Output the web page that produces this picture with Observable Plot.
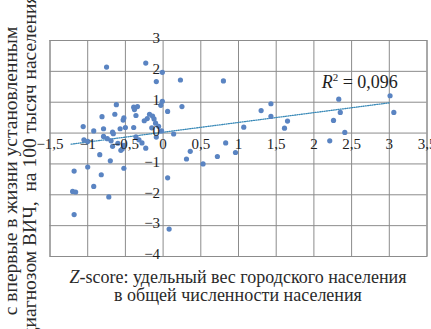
<!DOCTYPE html>
<html><head><meta charset="utf-8">
<script src="https://cdn.jsdelivr.net/npm/d3@7"></script>
<script src="https://cdn.jsdelivr.net/npm/@observablehq/plot@0.6"></script>
<style>body{margin:0;background:#fff;overflow:hidden;} svg{display:block;}</style>
</head><body><div id="chart"></div>
<script>
// Z-score: share of urban population (x) vs. Z-score: new HIV cases per 100k (y)
const urbanZ = [-0.75,-0.23,-0.01,-0.09,0.23,0.80,-0.01,-0.03,0.06,0.25,
  -0.62,-0.39,-0.34,-0.38,-0.81,-0.64,-0.52,-0.53,-0.36,-0.18,
  -0.14,-0.21,-0.25,-0.12,-0.10,-0.06,-1.06,-0.92,-0.79,-0.67,
  -0.57,-0.50,-0.39,-0.15,-0.02,0.14,-0.09,-1.05,-1.00,-0.79,
  -0.74,-0.69,-0.66,-0.60,-0.67,-0.54,-0.56,-0.52,-0.36,-0.32,
  -0.28,-0.23,-0.84,-0.70,-1.18,-1.00,-0.82,-0.52,-0.92,-1.20,
  -1.16,-0.72,-1.18,0.06,0.08,0.83,0.96,0.72,0.36,0.31,
  0.53,1.07,1.30,1.43,1.43,1.65,1.61,2.33,2.35,2.26,
  2.41,2.21,3.01,3.06];
const hivZ = [2.14,2.27,1.97,1.67,1.72,1.69,1.03,0.90,0.70,0.86,
  0.92,0.84,0.86,0.76,0.53,0.61,0.49,0.42,0.57,0.61,
  0.55,0.47,0.40,0.46,0.32,0.22,0.21,0.07,0.14,0.03,
  0.14,0.18,0.18,0.17,0.07,-0.03,-0.13,-0.22,-0.27,-0.11,
  -0.18,-0.25,-0.02,-0.33,-0.43,-0.51,-0.56,-0.40,-0.12,-0.22,
  -0.32,-0.49,-0.70,-0.90,-1.23,-1.10,-1.35,-1.14,-1.73,-1.89,
  -1.91,-2.07,-2.64,-1.45,-3.11,-0.32,-0.63,-0.76,-0.59,-0.84,
  -1.00,0.19,0.73,0.95,0.54,0.39,0.16,1.10,0.67,0.41,
  0.02,-0.25,1.21,0.67];
const xTicks = [-1.5,-1,-0.5,0,0.5,1,1.5,2,2.5,3,3.5];
const yTicks = [-4,-3,-2,-1,0,1,2,3];
const trendX = [-1.22, 3.0];
const trendY = [-0.36, 0.98];
const r2Text = "0,096";
const xLabelLine1 = ["Z", "-score: удельный вес городского населения"];
const xLabelLine2 = "в общей численности населения";
const yLabelLines = ["с впервые в жизни установленным", "диагнозом ВИЧ,  на 100 тысяч населения"];

const fmt = v => (v < 0 ? "\u2212" : "") + String(Math.abs(v)).replace(".", ",");
const points = urbanZ.map((x, i) => ({x, y: hivZ[i]}));
const trend = trendX.map((x, i) => ({x, y: trendY[i]}));
const FONT = "Liberation Serif, DejaVu Serif, Noto Serif, serif";

const plot = Plot.plot({
  width: 431, height: 329,
  marginLeft: 49.5, marginRight: 4.5, marginTop: 40, marginBottom: 73,
  style: {fontFamily: FONT, background: "#fff", overflow: "visible"},
  x: {domain: [-1.5, 3.5], axis: null},
  y: {domain: [-4, 3], axis: null},
  marks: [
    Plot.gridX(xTicks, {stroke: "#8c8c8c", strokeOpacity: 1}),
    Plot.gridY(yTicks, {stroke: "#8c8c8c", strokeOpacity: 1}),
    Plot.frame({stroke: "#8c8c8c"}),
    Plot.line(trend, {x: "x", y: "y", stroke: "#3a8ab8", strokeWidth: 1.3, strokeDasharray: "1,1.3"}),
    Plot.dot(points, {x: "x", y: "y", r: 2.6, fill: "#5a84c2"}),
    Plot.text(xTicks, {x: d => d, y: () => 0, text: fmt, dy: 11, fontSize: 15, fill: "#1e1e1e", fontFamily: FONT}),
    Plot.text(yTicks, {x: () => 0, y: d => d, text: fmt, dx: -3, dy: -2, textAnchor: "end", fontSize: 15, fill: "#1e1e1e", fontFamily: FONT})
  ]
});
document.getElementById("chart").append(plot);

const svg = d3.select(plot);
const sx = plot.scale("x"), sy = plot.scale("y");

// R² label
const r2 = svg.append("text")
  .attr("x", sx.apply(2.11)).attr("y", sy.apply(1.66)).attr("dy", "0.35em")
  .attr("text-anchor", "start")
  .style("font-family", FONT).attr("font-size", 18).attr("fill", "#1e1e1e");
r2.append("tspan").attr("font-style", "italic").text("R");
r2.append("tspan").attr("font-size", 11).attr("dy", -7).text("2");
r2.append("tspan").attr("dy", 7).text(" = " + r2Text);

// x-axis title
const cx = (49.5 + 426.5) / 2;
const xl1 = svg.append("text").attr("x", cx).attr("y", 283).attr("text-anchor", "middle")
  .style("font-family", FONT).attr("font-size", 18).attr("fill", "#2a2a2a");
xl1.append("tspan").attr("font-style", "italic").text(xLabelLine1[0]);
xl1.append("tspan").text(xLabelLine1[1]);
svg.append("text").attr("x", cx).attr("y", 301).attr("text-anchor", "middle")
  .style("font-family", FONT).attr("font-size", 18).attr("fill", "#2a2a2a").text(xLabelLine2);

// y-axis title (two rotated lines)
svg.append("text").attr("transform", "translate(17,171) rotate(-90)").attr("text-anchor", "middle")
  .style("font-family", FONT).attr("font-size", 19.5).attr("fill", "#2a2a2a").text(yLabelLines[0]);
svg.append("text").attr("transform", "translate(36,166) rotate(-90)").attr("text-anchor", "middle")
  .style("font-family", FONT).attr("font-size", 19.5).attr("fill", "#2a2a2a").text(yLabelLines[1]);
</script>
</body></html>
